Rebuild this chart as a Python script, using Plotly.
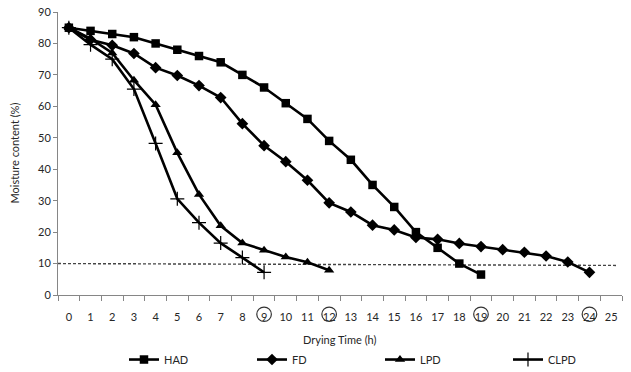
import plotly.graph_objects as go

hours = list(range(0, 26))
tick_labels = [str(h) for h in hours]
circled_hours = [9, 12, 19, 24]

had = [85, 84, 83, 82, 80, 78, 76, 74, 70, 66, 61, 56, 49, 43, 35, 28, 20, 15, 10, 6.5]
fd = [85, 81.2, 79.4, 76.8, 72.3, 69.8, 66.6, 62.8, 54.5, 47.5, 42.4, 36.5, 29.3,
      26.4, 22.2, 20.7, 18.3, 17.7, 16.4, 15.4, 14.4, 13.6, 12.4, 10.5, 7.2]
lpd = [85, 81.5, 77, 68.3, 60.5, 45.2, 32, 22, 16.5, 14.2, 12.1, 10.4, 7.9]
clpd = [85, 79.6, 75, 65.5, 48.2, 30.6, 23, 16.5, 11.9, 7.2]
threshold = [10, 9.4]

FONT = "Lato, 'Open Sans', sans-serif"
TXT = "#262626"

fig = go.Figure()

series = [
    ("HAD", had, dict(symbol="square", size=8.5, color="black")),
    ("FD", fd, dict(symbol="diamond", size=9, color="black")),
    ("LPD", lpd, dict(symbol="triangle-up", size=9, color="black")),
    ("CLPD", clpd, dict(symbol="cross-thin", size=10, color="black",
                        line=dict(color="black", width=1.2))),
]
for name, vals, mk in series:
    fig.add_trace(go.Scatter(
        x=hours[:len(vals)], y=vals, name=name, mode="lines+markers",
        line=dict(color="black", width=2.6), marker=mk,
    ))

# dashed 10% line
fig.add_shape(type="line", xref="x", yref="y", x0=-0.5, x1=25.3,
              y0=threshold[0], y1=threshold[1],
              line=dict(color="#444", width=1.4, dash="3px,2px"), layer="below")

# circles around selected tick labels
for h in circled_hours:
    fig.add_shape(type="circle", xref="x", yref="paper",
                  xsizemode="pixel", ysizemode="pixel",
                  xanchor=h, yanchor=-0.068,
                  x0=-7.3, x1=7.3, y0=-7.2, y1=7.2,
                  line=dict(color="#333", width=1.2))

fig.add_annotation(text="Drying Time (h)", xref="paper", yref="paper",
                   x=0.5, y=-0.158, showarrow=False, yanchor="middle",
                   font=dict(family=FONT, size=11, color=TXT))
fig.add_annotation(text="Moisture content (%)", xref="paper", yref="paper",
                   x=-0.078, y=0.5, textangle=-90, showarrow=False,
                   xanchor="center", yanchor="middle",
                   font=dict(family=FONT, size=11, color=TXT))

fig.update_xaxes(
    range=[-0.5, 25.5], tickmode="array", tickvals=hours, ticktext=tick_labels,
    ticks="outside", ticklen=12, tickcolor="rgba(0,0,0,0)",
    showline=True, linecolor="#868686", linewidth=1,
    showgrid=False, zeroline=False,
    tickfont=dict(family=FONT, size=11, color=TXT),
    minor=dict(tickmode="array", tickvals=[h - 0.5 for h in hours] + [25.5],
               ticks="outside", ticklen=5, tickcolor="#868686", showgrid=False),
)
fig.update_yaxes(
    range=[0, 90], tickvals=list(range(0, 91, 10)), ticks="outside", ticklen=4,
    tickcolor="#868686", showline=True, linecolor="#868686", linewidth=1,
    showgrid=False, zeroline=False,
    tickfont=dict(family=FONT, size=11, color=TXT),
)

fig.update_layout(
    width=631, height=372,
    margin=dict(l=58, r=9, t=12, b=77, autoexpand=False),
    plot_bgcolor="white", paper_bgcolor="white",
    font=dict(family=FONT, size=11, color=TXT),
    legend=dict(orientation="h", x=0.117, xanchor="left", y=-0.228, yanchor="middle",
                entrywidth=83, entrywidthmode="pixels",
                font=dict(family=FONT, size=11, color=TXT),
                itemwidth=30),
    showlegend=True,
)

fig.write_html("out.html", config={"displayModeBar": False},
               post_script="document.body.style.margin='0px';")
